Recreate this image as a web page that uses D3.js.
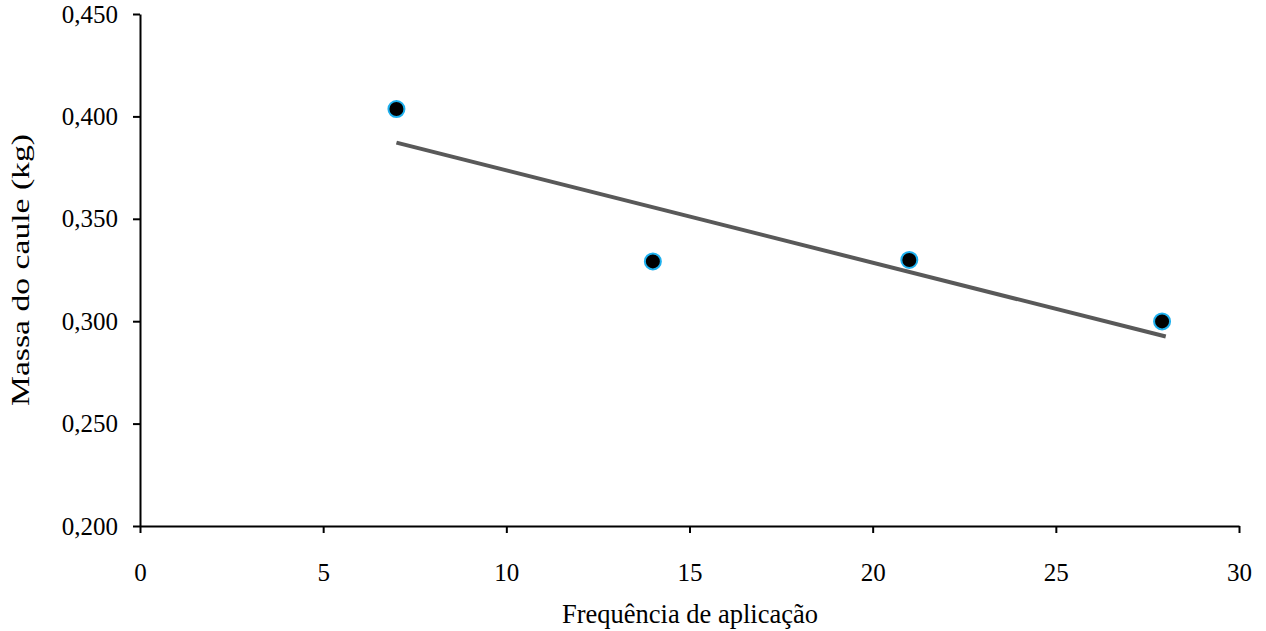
<!DOCTYPE html>
<html>
<head>
<meta charset="utf-8">
<script src="https://cdn.jsdelivr.net/npm/d3@7"></script>
<style>
  body { margin: 0; background: #fff; }
  text { font-family: "Liberation Serif", "Times New Roman", serif; fill: #000; }
</style>
</head>
<body>
<script>
// points
var freq = [7, 14, 21, 27.9];
var massa = [0.4036, 0.3292, 0.3299, 0.2999];

// trend line ends (linear fit)
var trendX = [7, 28];
var trendY = [0.3872, 0.2925];

var xTicks = [0, 5, 10, 15, 20, 25, 30];
var yTicks = [0.200, 0.250, 0.300, 0.350, 0.400, 0.450];

var W = 1266, H = 631;
var svg = d3.select("body").append("svg").attr("width", W).attr("height", H);

var x = d3.scaleLinear().domain([0, 30]).range([140, 1239]);
var y = d3.scaleLinear().domain([0.2, 0.45]).range([526, 14]);

var fmt = function (d) { return d3.format(".3f")(d).replace(".", ","); };

var gx = svg.append("g").attr("transform", "translate(0,526)")
	.call(d3.axisBottom(x).tickValues(xTicks).tickSize(7).tickPadding(30).tickSizeOuter(0));
var gy = svg.append("g").attr("transform", "translate(140,0)")
	.call(d3.axisLeft(y).tickValues(yTicks).tickSize(7).tickPadding(15).tickFormat(fmt).tickSizeOuter(0));

[gx, gy].forEach(function (g) {
	g.select(".domain").attr("stroke", "#000").attr("stroke-width", 2);
	g.selectAll(".tick line").attr("stroke", "#000").attr("stroke-width", 2);
	g.selectAll(".tick text")
		.style("font-family", "'Liberation Serif', 'Times New Roman', serif")
		.style("font-size", "25px").attr("fill", "#000");
});

// trend
svg.append("line")
	.attr("x1", x(trendX[0])).attr("y1", y(trendY[0]))
	.attr("x2", x(trendX[1])).attr("y2", y(trendY[1]))
	.attr("stroke", "#595959").attr("stroke-width", 4);

svg.selectAll("circle.pt").data(freq).enter().append("circle")
	.attr("class", "pt")
	.attr("cx", function (d) { return x(d); })
	.attr("cy", function (d, i) { return y(massa[i]); })
	.attr("r", 8)
	.attr("fill", "#000")
	.attr("stroke", "#1eb0ee")
	.attr("stroke-width", 2);

svg.append("text")
	.attr("x", 690).attr("y", 623)
	.attr("text-anchor", "middle")
	.style("font-size", "26.5px")
	.text("Frequência de aplicação");

// the rotated title is stretched along its length in the original
svg.append("text")
	.attr("transform", "translate(29,270) rotate(-90)")
	.attr("text-anchor", "middle")
	.attr("textLength", 272)
	.attr("lengthAdjust", "spacingAndGlyphs")
	.style("font-size", "25.5px")
	.text("Massa do caule (kg)");
</script>
</body>
</html>
